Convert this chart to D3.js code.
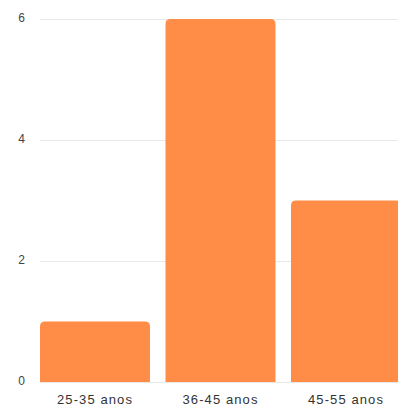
<!DOCTYPE html>
<html>
<head>
<meta charset="utf-8">
<script src="https://cdn.jsdelivr.net/npm/d3@7"></script>
<style>
  html, body { margin: 0; padding: 0; background: #fff; }
  svg { display: block; }
  text { font-family: "Liberation Sans", Arial, sans-serif; }
</style>
</head>
<body>
<svg id="chart" width="398" height="408"></svg>
<script>
// Age groups and respondent counts
const categories = ["25-35 anos", "36-45 anos", "45-55 anos"];
const counts = [1, 6, 3];
const yTicks = [0, 2, 4, 6];

const svg = d3.select("#chart");
const W = 398, H = 408;

const x = d3.scaleBand()
  .domain(categories)
  .range([40, 401])
  .paddingInner(0.1235)
  .paddingOuter(0);

const y = d3.scaleLinear()
  .domain([0, 6])
  .range([382, 19]);

// Horizontal gridlines
svg.append("g")
  .selectAll("line")
  .data(yTicks)
  .join("line")
  .attr("x1", 40)
  .attr("x2", W)
  .attr("y1", d => y(d) + 0.5)
  .attr("y2", d => y(d) + 0.5)
  .attr("stroke", "#e8e8e8")
  .attr("stroke-width", 1);

// Y-axis labels
const yAxis = d3.axisLeft(y).tickValues(yTicks).tickFormat(d3.format("d")).tickSize(0).tickPadding(0);
const gy = svg.append("g").attr("transform", "translate(21.5,0)").call(yAxis);
gy.select(".domain").remove();
gy.selectAll("text")
  .attr("text-anchor", "middle")
  .attr("dy", "0.32em")
  .attr("y", -1)
  .attr("font-size", 12)
  .attr("fill", "#444")
  .attr("font-family", "Liberation Sans, Arial, sans-serif");

// Bars with rounded top corners
const r = 5;
function barPath(d, i) {
  const x0 = x(categories[i]), w = x.bandwidth();
  const top = y(d), bottom = y(0);
  return `M${x0},${bottom}V${top + r}Q${x0},${top} ${x0 + r},${top}` +
         `H${x0 + w - r}Q${x0 + w},${top} ${x0 + w},${top + r}V${bottom}Z`;
}
svg.append("g")
  .selectAll("path")
  .data(counts)
  .join("path")
  .attr("d", (d, i) => barPath(d, i))
  .attr("fill", "#ff8c47");

// X-axis labels
const xAxis = d3.axisBottom(x).tickSize(0).tickPadding(0);
const gx = svg.append("g").attr("transform", "translate(0,399.5)").call(xAxis);
gx.select(".domain").remove();
gx.selectAll("text")
  .attr("dy", "0.35em")
  .attr("font-size", 13)
  .attr("letter-spacing", 1.1)
  .attr("fill", "#333")
  .attr("font-family", "Liberation Sans, Arial, sans-serif");
</script>
</body>
</html>
